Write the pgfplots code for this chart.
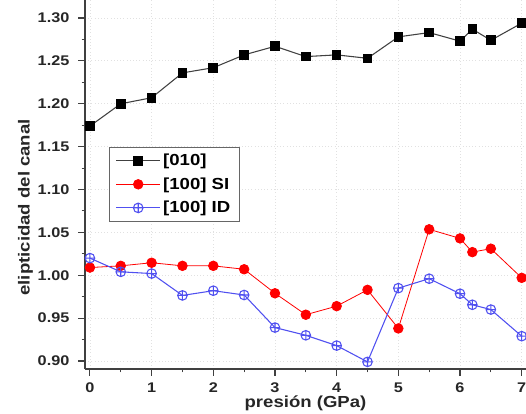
\documentclass[border=0pt]{standalone}
\usepackage{fontspec}
\setmainfont{Liberation Sans}[FakeStretch=1.16]
\usepackage{pgfplots}
\pgfplotsset{compat=1.18}
\usetikzlibrary{plotmarks}

\definecolor{lineblue}{RGB}{80,80,240}
\definecolor{gridgray}{RGB}{225,225,225}

\begin{document}
\begin{tikzpicture}
\begin{axis}[
    name=main,
    width=330.75pt, height=276.75pt,
    scale only axis,
    xmin=-0.08, xmax=7.07,
    ymin=0.8907, ymax=1.321,
    axis x line*=bottom,
    axis y line*=left,
    axis line style={draw=black!75, line width=0.8pt},
    xtick={0,...,7},
    ytick={0.90,0.95,...,1.31},
    minor x tick num=1,
    minor y tick num=1,
    tick align=outside,
    major tick length=5.2pt,
    minor tick length=2.6pt,
    every tick/.style={black!75, line width=0.8pt},
    grid=major,
    major grid style={gridgray, dotted, line width=0.6pt},
    /pgf/number format/assume math mode=true,
    yticklabel style={/pgf/number format/.cd, fixed, fixed zerofill, precision=2,
        /tikz/.cd, xshift=-3pt},
    xticklabel style={inner sep=1pt, yshift=-3.8pt},
    tick label style={font=\bfseries\fontsize{10.5}{12}\selectfont, black!85},
    xlabel={presión (GPa)},
    ylabel={elipticidad del canal},
    label style={font=\bfseries\fontsize{12}{14}\selectfont, black!85},
    xlabel style={at={([yshift=-29pt]rel axis cs:0.5,0)}, anchor=base, inner sep=0pt},
    ylabel style={at={([xshift=-44.6pt]rel axis cs:0,0.438)}, anchor=center},
    legend style={at={(0.054,0.602)}, anchor=north west,
        draw=black!60, line width=0.6pt,
        font=\bfseries\fontsize{12}{14}\selectfont,
        inner xsep=5pt, inner ysep=3pt, row sep=3.5pt},
    legend cell align=left,
    legend image code/.code={
        \draw[#1] (0cm,0cm) -- (1.15cm,0cm);
        \draw[#1,mark repeat=2,mark phase=2] plot coordinates {(0cm,0cm) (0.575cm,0cm) (1.15cm,0cm)};
    },
    clip=false,
]
\addplot[black!75, line width=0.8pt, mark=square*, mark size=3.2pt,
    mark options={fill=black, draw=black, solid}]
coordinates {
(0,1.174) (0.5,1.200) (1,1.207) (1.5,1.236) (2,1.242) (2.5,1.257)
(3,1.267) (3.5,1.255) (4,1.257) (4.5,1.253) (5,1.278) (5.5,1.283)
(6,1.273) (6.2,1.287) (6.5,1.274) (7,1.294)
};
\addlegendentry{[010]}

\addplot[red, line width=0.6pt, mark=*, mark size=3.6pt,
    mark options={fill=red, draw=red, solid}]
coordinates {
(0,1.009) (0.5,1.011) (1,1.0146) (1.5,1.011) (2,1.011) (2.5,1.007)
(3,0.979) (3.5,0.954) (4,0.964) (4.5,0.983) (5,0.938) (5.5,1.0536)
(6,1.043) (6.2,1.027) (6.5,1.031) (7,0.997)
};
\addlegendentry{[100] SI}

\addplot[lineblue, line width=0.8pt, mark=oplus, mark size=3.6pt,
    mark options={draw=lineblue, fill=white, solid}]
coordinates {
(0,1.020) (0.5,1.004) (1,1.002) (1.5,0.9765) (2,0.982) (2.5,0.977)
(3,0.939) (3.5,0.930) (4,0.918) (4.5,0.899) (5,0.985) (5.5,0.996)
(6,0.9785) (6.2,0.9656) (6.5,0.960) (7,0.929)
};
\addlegendentry{[100] ID}

\coordinate (ur) at (rel axis cs:1,1);
\coordinate (ll) at (rel axis cs:0,0);
\end{axis}
\pgfresetboundingbox
\path[use as bounding box] ([xshift=-63.75pt,yshift=-33pt]ll) rectangle (ur);
\end{tikzpicture}
\end{document}
